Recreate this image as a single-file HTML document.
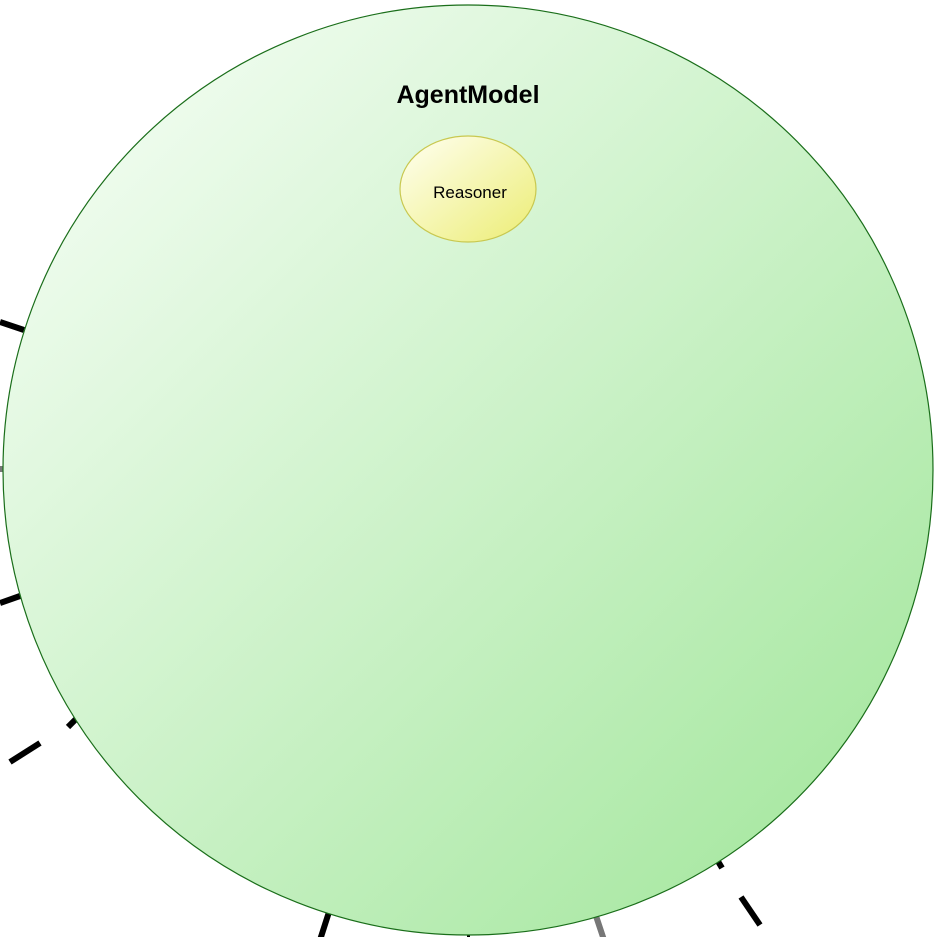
<!DOCTYPE html>
<html><head><meta charset="utf-8"><style>html,body{margin:0;padding:0;background:#fff}svg{display:block}</style></head>
<body>
<svg width="936" height="937" viewBox="0 0 936 937">
<defs>
<linearGradient id="g" x1="0" y1="0" x2="1" y2="1">
<stop offset="0" stop-color="#fafffa"/><stop offset="1" stop-color="#9ee597"/></linearGradient>
<linearGradient id="y" x1="0" y1="0" x2="1" y2="1">
<stop offset="0" stop-color="#fffff2"/><stop offset="1" stop-color="#eced74"/></linearGradient>
</defs>
<g stroke="#000" stroke-width="6">
<line x1="0" y1="322" x2="24" y2="330"/>
<line x1="0" y1="603" x2="20" y2="596"/>
<line x1="10" y1="762" x2="40" y2="743"/>
<line x1="68" y1="727" x2="76" y2="719"/>
<line x1="320" y1="940" x2="329" y2="912"/>
<line x1="467" y1="937" x2="470" y2="937"/>
<line x1="716" y1="858" x2="722" y2="868"/>
<line x1="741" y1="897" x2="760" y2="925"/>
<line x1="596" y1="916" x2="604" y2="940" stroke="#777"/>
<line x1="0" y1="469" x2="5" y2="469" stroke="#777"/>
</g>
<circle cx="468" cy="470" r="465" fill="url(#g)" stroke="#1a6e1a" stroke-width="1.2"/>
<text x="468" y="103" text-anchor="middle" font-family="Liberation Sans, sans-serif" font-weight="bold" font-size="25">AgentModel</text>
<ellipse cx="468" cy="189" rx="68" ry="53" fill="url(#y)" stroke="#c8c850" stroke-width="1.2"/>
<text x="470" y="198" text-anchor="middle" font-family="Liberation Sans, sans-serif" font-size="17">Reasoner</text>
</svg>
</body></html>
